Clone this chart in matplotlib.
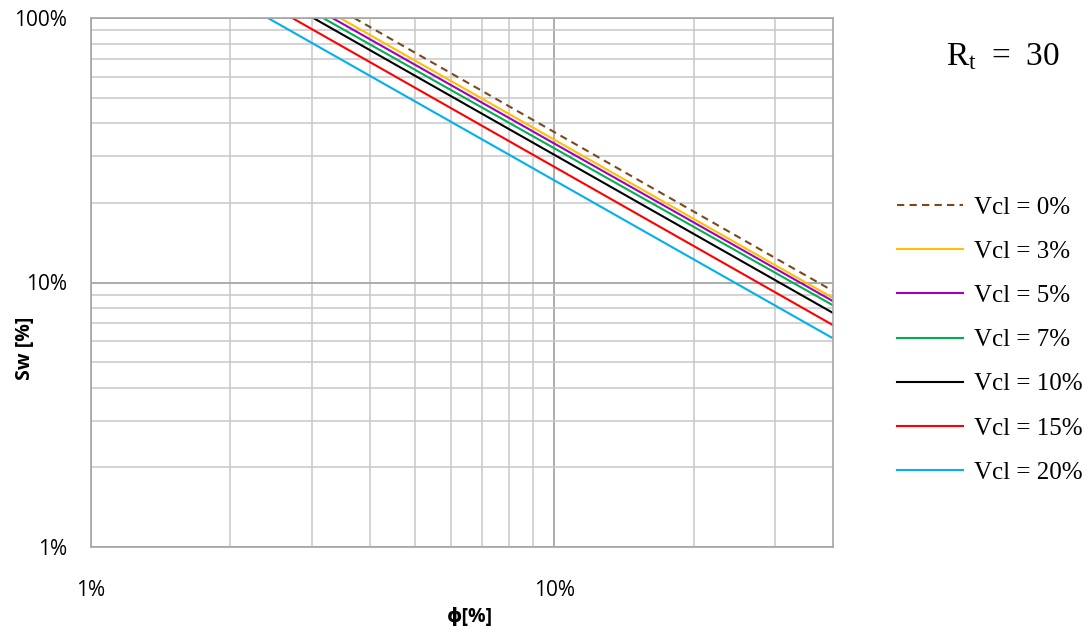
import matplotlib
matplotlib.use("Agg")
import matplotlib.pyplot as plt
from matplotlib.ticker import FixedLocator, FuncFormatter, NullFormatter

plt.rcParams['mathtext.fontset'] = 'custom'
plt.rcParams['mathtext.rm'] = 'Liberation Serif'

# Sw lines (log-log, straight): start where Sw hits 100%, end at phi = 40%
labels = ['Vcl = 0%', 'Vcl = 3%', 'Vcl = 5%', 'Vcl = 7%', 'Vcl = 10%', 'Vcl = 15%', 'Vcl = 20%']
phi_start = [3.70, 3.45, 3.32, 3.17, 3.02, 2.72, 2.41]
phi_end = [40, 40, 40, 40, 40, 40, 40]
sw_start = [100, 100, 100, 100, 100, 100, 100]
sw_end = [9.29, 8.74, 8.50, 8.20, 7.67, 6.90, 6.15]
colors = ['#7a4a1e', '#ffc000', '#a000c0', '#00b050', '#000000', '#ff0000', '#00b0f0']

fig = plt.figure(figsize=(10.89, 6.3), dpi=100)
ax = fig.add_axes([91 / 1089, 1 - 547 / 630, (833 - 91) / 1089, (547 - 18) / 630])

for i in range(len(labels)):
    ls = (0, (3.5, 2.5)) if i == 0 else '-'
    ax.plot([phi_start[i], phi_end[i]], [sw_start[i], sw_end[i]], color=colors[i],
            lw=1.5, linestyle=ls, label=labels[i])

ax.set_xscale('log')
ax.set_yscale('log')
ax.set_xlim(1, 40)
ax.set_ylim(1, 100)

ax.xaxis.set_major_locator(FixedLocator([1, 10]))
ax.yaxis.set_major_locator(FixedLocator([1, 10, 100]))
minors_x = [2, 3, 4, 5, 6, 7, 8, 9, 20, 30]
minors_y = [2, 3, 4, 5, 6, 7, 8, 9, 20, 30, 40, 50, 60, 70, 80, 90]
ax.xaxis.set_minor_locator(FixedLocator(minors_x))
ax.yaxis.set_minor_locator(FixedLocator(minors_y))
pct = FuncFormatter(lambda v, p: f'{v:g}%')
ax.xaxis.set_major_formatter(pct)
ax.yaxis.set_major_formatter(pct)
ax.xaxis.set_minor_formatter(NullFormatter())
ax.yaxis.set_minor_formatter(NullFormatter())

ax.grid(which='major', color='#a6a6a6', lw=1.3)
ax.grid(which='minor', color='#c8c8c8', lw=1.1)
ax.set_axisbelow(True)
for s in ax.spines.values():
    s.set_color('#a6a6a6')
    s.set_linewidth(1.2)

ax.tick_params(which='both', length=0)
ax.tick_params(axis='x', pad=24, labelsize=15)
ax.tick_params(axis='y', pad=17, labelsize=15)
for t in ax.get_xticklabels() + ax.get_yticklabels():
    t.set_family('Open Sans')

ax.set_xlabel('ϕ[%]', fontsize=14, fontweight='bold', family=['Open Sans', 'DejaVu Sans'])
ax.set_ylabel('Sw [%]', fontsize=14, fontweight='bold', family='Open Sans')
ax.xaxis.set_label_coords((470 - 91) / (833 - 91), -(617 - 547) / (547 - 18), transform=ax.transAxes)
ax.xaxis.label.set_va('center')
ax.yaxis.set_label_coords(-(91 - 25) / (833 - 91), (547 - 348) / (547 - 18), transform=ax.transAxes)
ax.yaxis.label.set_va('center')

fig.text(1003 / 1089, 1 - 57 / 630, r'$\mathrm{R_t}\;=\;30$', fontsize=24,
         ha='center', va='center', family='Liberation Serif')

fig.legend(loc='upper left', bbox_to_anchor=(897 / 1089, 1 - 196 / 630), frameon=False,
           prop={'family': 'Liberation Serif', 'size': 18}, handlelength=2.65,
           handletextpad=0.45, labelspacing=0.87, borderpad=0, borderaxespad=0)

fig.savefig('out.png', dpi=100)
